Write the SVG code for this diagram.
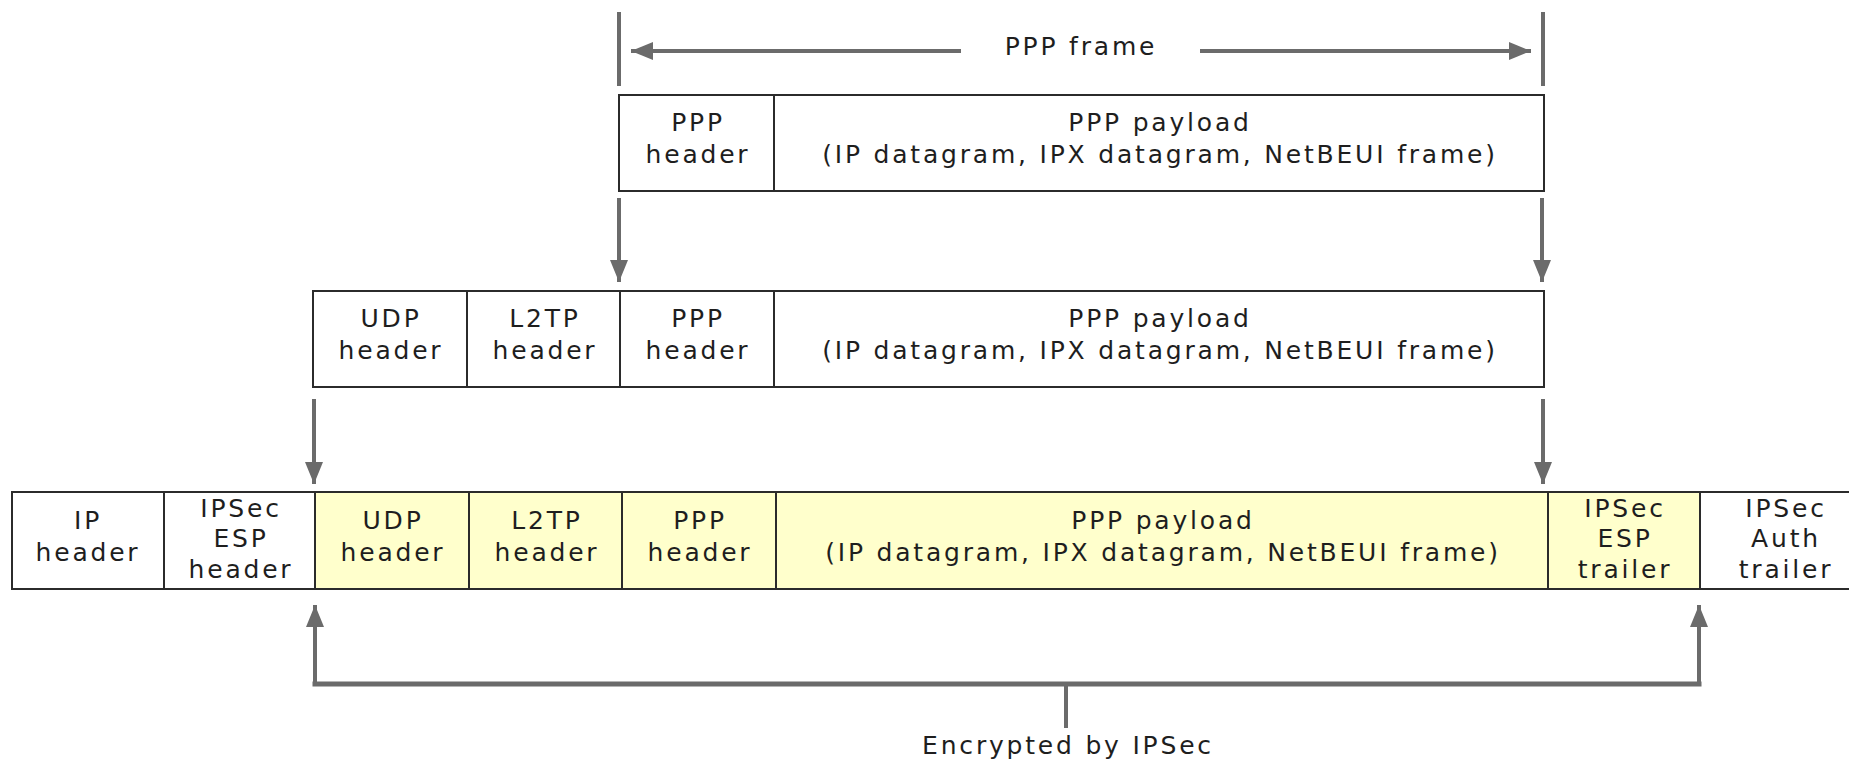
<svg xmlns="http://www.w3.org/2000/svg" width="1849" height="759" viewBox="0 0 1849 759">
<style>
  .cell { stroke: #2b2b2b; stroke-width: 2; fill: #ffffff; }
  .enc { fill: #ffffcc; }
  text { font-family: "DejaVu Sans", Verdana, sans-serif; font-size: 25px; letter-spacing: 2.8px; fill: #1e1e1e; text-anchor: middle; }
  .conn { stroke: #6b6b6b; stroke-width: 4; fill: none; }
  .bar { stroke: #6b6b6b; stroke-width: 5; fill: none; stroke-linecap: square; }
</style>
<defs>
  <marker id="ah" viewBox="0 0 10 10" refX="10" refY="5" markerUnits="userSpaceOnUse" markerWidth="22" markerHeight="18" orient="auto" preserveAspectRatio="none">
    <path d="M0,0 L10,5 L0,10 z" fill="#6b6b6b"/>
  </marker>
</defs>
<rect width="1849" height="759" fill="#ffffff"/>

<g id="connectors">
  <line class="conn" x1="619" y1="12" x2="619" y2="86"/>
  <line class="conn" x1="1543" y1="12" x2="1543" y2="86"/>
  <line class="conn" x1="961" y1="51" x2="631" y2="51" marker-end="url(#ah)"/>
  <line class="conn" x1="1200" y1="51" x2="1531" y2="51" marker-end="url(#ah)"/>
  <line class="conn" x1="619" y1="198" x2="619" y2="282" marker-end="url(#ah)"/>
  <line class="conn" x1="1542" y1="198" x2="1542" y2="282" marker-end="url(#ah)"/>
  <line class="conn" x1="314" y1="399" x2="314" y2="484" marker-end="url(#ah)"/>
  <line class="conn" x1="1543" y1="399" x2="1543" y2="484" marker-end="url(#ah)"/>
  <line class="bar" x1="315" y1="684" x2="1699" y2="684"/>
  <line class="conn" x1="315" y1="684" x2="315" y2="605" marker-end="url(#ah)"/>
  <line class="conn" x1="1699" y1="684" x2="1699" y2="605" marker-end="url(#ah)"/>
  <line class="conn" x1="1066" y1="684" x2="1066" y2="728"/>
  <text x="1081" y="55">PPP frame</text>
  <text x="1068" y="754">Encrypted by IPSec</text>
</g>

<g id="top-ppp-header">
  <rect class="cell" x="619" y="95" width="155" height="96"/>
  <text x="698" y="131">PPP</text>
  <text x="698" y="163">header</text>
</g>
<g id="top-ppp-payload">
  <rect class="cell" x="774" y="95" width="770" height="96"/>
  <text x="1160" y="131">PPP payload</text>
  <text x="1160" y="163">(IP datagram, IPX datagram, NetBEUI frame)</text>
</g>

<g id="mid-udp-header">
  <rect class="cell" x="313" y="291" width="154" height="96"/>
  <text x="391" y="327">UDP</text>
  <text x="391" y="359">header</text>
</g>
<g id="mid-l2tp-header">
  <rect class="cell" x="467" y="291" width="153" height="96"/>
  <text x="545" y="327">L2TP</text>
  <text x="545" y="359">header</text>
</g>
<g id="mid-ppp-header">
  <rect class="cell" x="620" y="291" width="154" height="96"/>
  <text x="698" y="327">PPP</text>
  <text x="698" y="359">header</text>
</g>
<g id="mid-ppp-payload">
  <rect class="cell" x="774" y="291" width="770" height="96"/>
  <text x="1160" y="327">PPP payload</text>
  <text x="1160" y="359">(IP datagram, IPX datagram, NetBEUI frame)</text>
</g>

<g id="bot-ip-header">
  <rect class="cell" x="12" y="492" width="152" height="97"/>
  <text x="88" y="529">IP</text>
  <text x="88" y="561">header</text>
</g>
<g id="bot-esp-header">
  <rect class="cell" x="164" y="492" width="151" height="97"/>
  <text x="241" y="517">IPSec</text>
  <text x="241" y="547">ESP</text>
  <text x="241" y="578">header</text>
</g>
<g id="bot-udp-header">
  <rect class="cell enc" x="315" y="492" width="154" height="97"/>
  <text x="393" y="529">UDP</text>
  <text x="393" y="561">header</text>
</g>
<g id="bot-l2tp-header">
  <rect class="cell enc" x="469" y="492" width="153" height="97"/>
  <text x="547" y="529">L2TP</text>
  <text x="547" y="561">header</text>
</g>
<g id="bot-ppp-header">
  <rect class="cell enc" x="622" y="492" width="154" height="97"/>
  <text x="700" y="529">PPP</text>
  <text x="700" y="561">header</text>
</g>
<g id="bot-ppp-payload">
  <rect class="cell enc" x="776" y="492" width="772" height="97"/>
  <text x="1163" y="529">PPP payload</text>
  <text x="1163" y="561">(IP datagram, IPX datagram, NetBEUI frame)</text>
</g>
<g id="bot-esp-trailer">
  <rect class="cell enc" x="1548" y="492" width="152" height="97"/>
  <text x="1625" y="517">IPSec</text>
  <text x="1625" y="547">ESP</text>
  <text x="1625" y="578">trailer</text>
</g>
<g id="bot-auth-trailer">
  <rect class="cell" x="1700" y="492" width="170" height="97"/>
  <text x="1786" y="517">IPSec</text>
  <text x="1786" y="547">Auth</text>
  <text x="1786" y="578">trailer</text>
</g>
</svg>
